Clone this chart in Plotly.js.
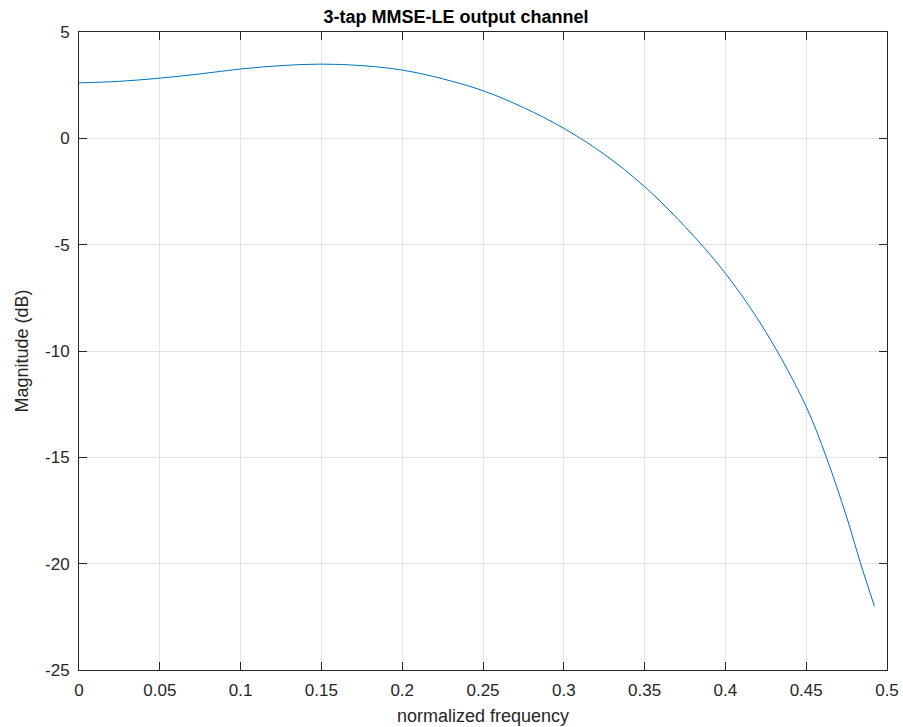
<!DOCTYPE html>
<html>
<head>
<meta charset="utf-8">
<script src="https://cdn.plot.ly/plotly-3.0.1.min.js"></script>
<style>html,body{margin:0;padding:0;background:#fff}</style>
</head>
<body>
<div id="chart" style="width:903px;height:727px"></div>
<script>
var freq = [0, 0.025, 0.05, 0.075, 0.1, 0.125, 0.15, 0.175, 0.2, 0.225, 0.25, 0.275, 0.3, 0.325, 0.35, 0.375, 0.4, 0.425, 0.45, 0.4625, 0.475, 0.4837, 0.4922];
var magDb = [2.61, 2.68, 2.83, 3.03, 3.26, 3.42, 3.49, 3.42, 3.21, 2.80, 2.24, 1.45, 0.47, -0.75, -2.27, -4.15, -6.35, -9.1, -12.62, -15.0, -17.8, -20.0, -22.0];
var xTicks = [0, 0.05, 0.1, 0.15, 0.2, 0.25, 0.3, 0.35, 0.4, 0.45, 0.5];
var xTickLabels = ['0', '0.05', '0.1', '0.15', '0.2', '0.25', '0.3', '0.35', '0.4', '0.45', '0.5'];
var yTicks = [-25, -20, -15, -10, -5, 0, 5];
var yTickLabels = ['-25', '-20', '-15', '-10', '-5', '0', '5'];

var font = 'Liberation Sans, Arial, Helvetica, sans-serif';
var trace = {
  x: freq, y: magDb, type: 'scatter', mode: 'lines',
  line: {color: '#0072BD', width: 1, shape: 'spline', smoothing: 1},
  hoverinfo: 'none'
};
var axisCommon = {
  showline: true, mirror: 'ticks', linecolor: '#262626', linewidth: 1,
  ticks: 'inside', ticklen: 8, tickcolor: '#262626', tickwidth: 1,
  showgrid: true, gridcolor: '#e3e3e3', gridwidth: 1,
  zeroline: false, tickfont: {family: font, size: 17, color: '#262626'}
};
var layout = {
  width: 903, height: 727,
  margin: {l: 79, r: 16, t: 32, b: 57},
  paper_bgcolor: '#fff', plot_bgcolor: '#fff',
  showlegend: false,
  title: {text: '<b>3-tap MMSE-LE output channel</b>', font: {family: font, size: 18, color: '#000'}, x: 0.505, xanchor: 'center', y: 0.977, yanchor: 'middle'},
  xaxis: Object.assign({}, axisCommon, {
    range: [0, 0.5], tickmode: 'array', tickvals: xTicks, ticktext: xTickLabels,
    ticklabelstandoff: 5,
    title: {text: 'normalized frequency', font: {family: font, size: 18, color: '#262626'}, standoff: 9}
  }),
  yaxis: Object.assign({}, axisCommon, {
    range: [-25, 5], tickmode: 'array', tickvals: yTicks, ticktext: yTickLabels,
    ticklabelstandoff: 5,
    title: {text: 'Magnitude (dB)', font: {family: font, size: 18, color: '#262626'}, standoff: 11}
  })
};
Plotly.newPlot('chart', [trace], layout, {displayModeBar: false, staticPlot: true});
</script>
</body>
</html>
